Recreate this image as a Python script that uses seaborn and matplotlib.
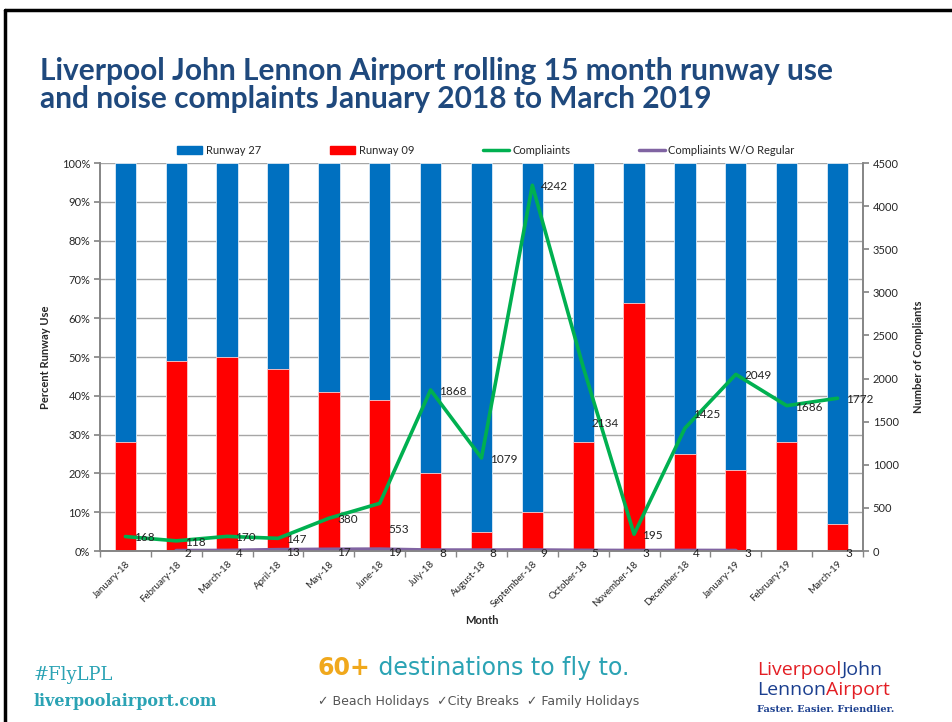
import numpy as np
import pandas as pd
import seaborn as sns
import matplotlib.pyplot as plt
from matplotlib.lines import Line2D
from matplotlib.patches import Patch
from matplotlib.ticker import FuncFormatter

months = ['January-18', 'February-18', 'March-18', 'April-18', 'May-18', 'June-18',
          'July-18', 'August-18', 'September-18', 'October-18', 'November-18',
          'December-18', 'January-19', 'February-19', 'March-19']
runway_09 = [28, 49, 50, 47, 41, 39, 20, 5, 10, 28, 64, 25, 21, 28, 7]
runway_27 = [72, 51, 50, 53, 59, 61, 80, 95, 90, 72, 36, 75, 79, 72, 93]
complaints = [168, 118, 170, 147, 380, 553, 1868, 1079, 4242, 2134, 195, 1425, 2049, 1686, 1772]
complaints_wo_regular = [np.nan, 2, 4, 13, 17, 19, 8, 8, 9, 5, 3, 4, 3, np.nan, 3]

df = pd.DataFrame({'Month': months, 'pos': range(len(months)),
                   'Runway 09': runway_09, 'Runway 27': runway_27,
                   'Compliaints': complaints, 'W/O Regular': complaints_wo_regular})
# stacked: blue bar is the total, red drawn over it
df['Total'] = df['Runway 09'] + df['Runway 27']

BLUE, RED, GREEN, PURPLE = '#0070C0', '#FF0000', '#00B050', '#8064A2'
GRID, SPINE = '#A6A6A6', '#868686'

sns.set_theme(style='white')
plt.rcParams['font.family'] = ['Lato', 'DejaVu Sans']

fig = plt.figure(figsize=(9.52, 7.22), dpi=100)
ax = fig.add_axes([0.105, 0.2368, 0.8015, 0.5374])

sns.barplot(data=df, x='Month', y='Total', color=BLUE, saturation=1, width=0.42, ax=ax,
            edgecolor='#DDEBF7', linewidth=0.6)
sns.barplot(data=df, x='Month', y='Runway 09', color=RED, saturation=1, width=0.42, ax=ax,
            edgecolor='#FFD0D0', linewidth=0.6)

ax.set_ylim(0, 100)
ax.set_yticks(np.arange(0, 101, 10))
ax.yaxis.set_major_formatter(FuncFormatter(lambda v, p: f'{v:.0f}%'))
ax.set_axisbelow(True)
ax.yaxis.grid(True, color=GRID, lw=1)
ax.set_ylabel('Percent Runway Use', fontsize=8, fontweight='bold', labelpad=8)
ax.set_xlabel('Month', fontsize=8, fontweight='bold', labelpad=4)

ax.set_xticks(range(len(months)))
ax.set_xticklabels(months, rotation=45, ha='right', va='top', rotation_mode='anchor', fontsize=7)
ax.set_xticks(np.arange(-0.5, len(months), 1), minor=True)
ax.tick_params(axis='x', which='major', length=0, pad=6)
ax.tick_params(axis='x', which='minor', length=4, color=SPINE, width=1, direction='out', bottom=True)
ax.tick_params(axis='y', length=4, color=SPINE, direction='out', left=True, labelsize=8, pad=3)

for side in ['left', 'bottom', 'right']:
    ax.spines[side].set_color(SPINE)
ax.spines['top'].set_visible(False)

ax2 = ax.twinx()
sns.lineplot(x=df['pos'], y=df['Compliaints'], color=GREEN, lw=2.6, ax=ax2, legend=False)

# purple line has gaps, draw each unbroken run separately
wo = df['W/O Regular']
run_id = wo.isna().cumsum()
for _, seg in df[wo.notna()].groupby(run_id[wo.notna()]):
    if len(seg) > 1:
        sns.lineplot(x=seg['pos'], y=seg['W/O Regular'], color=PURPLE, lw=3, ax=ax2, legend=False)

ax2.set_ylim(0, 4500)
ax2.set_yticks(np.arange(0, 4501, 500))
ax2.grid(False)
ax2.set_ylabel('Number of Compliants', fontsize=8, fontweight='bold', labelpad=10)
ax2.tick_params(axis='y', length=4, color=SPINE, direction='out', right=True, labelsize=8, pad=3)
for side in ['left', 'bottom', 'right']:
    ax2.spines[side].set_color(SPINE)
ax2.spines['top'].set_visible(False)
ax.set_xlim(-0.5, len(months) - 0.5)
ax2.set_xlim(-0.5, len(months) - 0.5)
ax2.set_xlabel('')

# data labels (a few were nudged by hand in the original)
nudge = {'June-18': -19, 'October-18': -41, 'December-18': 10}
for m, p, v in zip(df['Month'], df['pos'], df['Compliaints']):
    ax2.annotate(f'{v:d}', (p, v), xytext=(6, nudge.get(m, -1)), textcoords='offset points',
                 ha='left', va='center', fontsize=8.5, color='#222222')
for p, v in zip(df['pos'], df['W/O Regular']):
    if not np.isnan(v):
        ax2.annotate(f'{v:.0f}', (p, v), xytext=(6, -2), textcoords='offset points',
                     ha='left', va='center', fontsize=8.5, color='#222222')

handles = [Patch(color=BLUE), Patch(color=RED),
           Line2D([], [], color=GREEN, lw=2.5), Line2D([], [], color=PURPLE, lw=2.5)]
labels = ['Runway 27', 'Runway 09', 'Compliaints', 'Compliaints W/O Regular']
fig.legend(handles, labels, loc='center', bbox_to_anchor=(0.51, 0.792), ncol=4,
           frameon=False, fontsize=8, columnspacing=6.2, handlelength=2.3,
           handletextpad=0.3, handleheight=0.8)

fig.text(0.042, 0.882, 'Liverpool John Lennon Airport rolling 15 month runway use\n'
         'and noise complaints January 2018 to March 2019',
         fontsize=21.5, fontweight='bold', color='#1F497D', va='center', linespacing=0.98)

# slide frame
fig.add_artist(Line2D([0.005, 0.005], [0.0, 0.986], color='black', lw=2.5, transform=fig.transFigure))
fig.add_artist(Line2D([0.005, 1.0], [0.986, 0.986], color='black', lw=2.5, transform=fig.transFigure))

# footer
TEAL = '#2BA3B4'
fig.text(0.035, 0.065, '#FlyLPL', fontsize=13, color=TEAL, family='DejaVu Serif', va='center')
fig.text(0.035, 0.028, 'liverpoolairport.com', fontsize=11.5, color=TEAL, family='DejaVu Serif',
         fontweight='bold', va='center')
t60 = fig.text(0.334, 0.075, '60+', fontsize=17, color='#F0A81C', family='DejaVu Sans',
               fontweight='bold', va='center')
ax.annotate(' destinations to fly to.', xy=(1, 0.5), xycoords=t60, va='center', ha='left',
            fontsize=17, color=TEAL, family='DejaVu Sans', annotation_clip=False)
fig.text(0.334, 0.028, '✓ Beach Holidays  ✓City Breaks  ✓ Family Holidays', fontsize=9,
         color='#555555', family='DejaVu Sans', va='center')

LRED, LBLUE = '#E31E24', '#1B3F8F'
tl = fig.text(0.795, 0.072, 'Liverpool', fontsize=14, color=LRED, family='Open Sans', va='center')
ax.annotate('John', xy=(1, 0.5), xycoords=tl, va='center', ha='left', fontsize=14, color=LBLUE,
            family='Open Sans', annotation_clip=False)
tn = fig.text(0.795, 0.045, 'Lennon', fontsize=14, color=LBLUE, family='Open Sans', va='center')
ax.annotate('Airport', xy=(1, 0.5), xycoords=tn, va='center', ha='left', fontsize=14, color=LRED,
            family='Open Sans', annotation_clip=False)
fig.text(0.795, 0.017, 'Faster. Easier. Friendlier.', fontsize=7, color=LBLUE, family='DejaVu Serif',
         fontweight='bold', va='center')

fig.savefig('out.png', dpi=100)
